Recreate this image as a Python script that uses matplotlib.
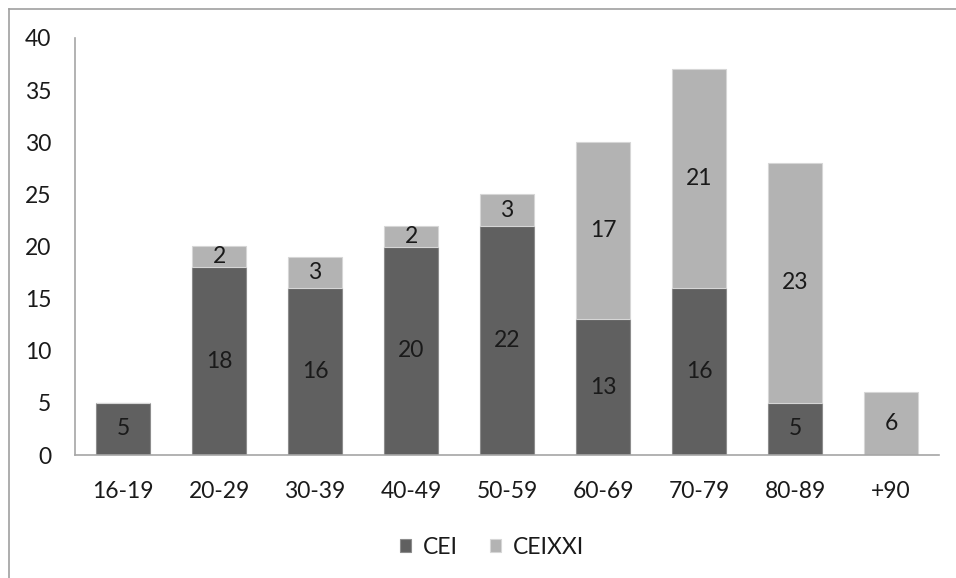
import matplotlib.pyplot as plt
from matplotlib.lines import Line2D
import numpy as np

categories = ["16-19", "20-29", "30-39", "40-49", "50-59", "60-69", "70-79", "80-89", "+90"]
cei = [5, 18, 16, 20, 22, 13, 16, 5, 0]
ceixxi = [0, 2, 3, 2, 3, 17, 21, 23, 6]
series_names = ["CEI", "CEIXXI"]

dark = "#606060"
light = "#b3b3b3"
text_color = "#1a1a1a"
axis_color = "#a6a6a6"

plt.rcParams["font.family"] = ["Lato", "DejaVu Sans"]

fig = plt.figure(figsize=(9.56, 5.78), dpi=100)
ax = fig.add_axes([75 / 956, 1 - 455 / 578, 864 / 956, (455 - 38) / 578])

x = np.arange(len(categories))
w = 0.56
b1 = ax.bar(x, cei, w, color=dark, edgecolor="#8c8c8c", linewidth=0.8, label=series_names[0])
b2 = ax.bar(x, ceixxi, w, bottom=cei, color=light, edgecolor="#d6d6d6", linewidth=0.8, label=series_names[1])

fs = 16.5
for i in range(len(categories)):
    if cei[i] > 0:
        ax.text(x[i], cei[i] / 2, str(cei[i]), ha="center", va="center", fontsize=fs, color=text_color)
    if ceixxi[i] > 0:
        ax.text(x[i], cei[i] + ceixxi[i] / 2, str(ceixxi[i]), ha="center", va="center", fontsize=fs, color=text_color)

ax.set_xlim(-0.5, len(categories) - 0.5)
ax.set_ylim(0, 40)
ax.set_yticks(range(0, 41, 5))
ax.set_xticks(x)
ax.set_xticklabels(categories)
ax.tick_params(axis="both", length=0, labelsize=fs, labelcolor=text_color)
ax.tick_params(axis="y", pad=17)
ax.tick_params(axis="x", pad=19)
for s in ["top", "right"]:
    ax.spines[s].set_visible(False)
for s in ["left", "bottom"]:
    ax.spines[s].set_color(axis_color)
    ax.spines[s].set_linewidth(1.2)

fig.legend(handles=[b1, b2], labels=series_names, loc="center", ncol=2,
           bbox_to_anchor=(492 / 956, 1 - 547 / 578), frameon=False,
           fontsize=fs, handlelength=0.5, handleheight=0.5, handletextpad=0.5,
           columnspacing=1.4, labelcolor=text_color)

# outer chart frame
fig.add_artist(Line2D([8.5 / 956, 8.5 / 956], [0, 1 - 8.5 / 578], transform=fig.transFigure,
                      color="#a0a0a0", linewidth=1.2))
fig.add_artist(Line2D([8.5 / 956, 1], [1 - 8.5 / 578, 1 - 8.5 / 578], transform=fig.transFigure,
                      color="#a0a0a0", linewidth=1.2))

fig.savefig("out.png", dpi=100)
